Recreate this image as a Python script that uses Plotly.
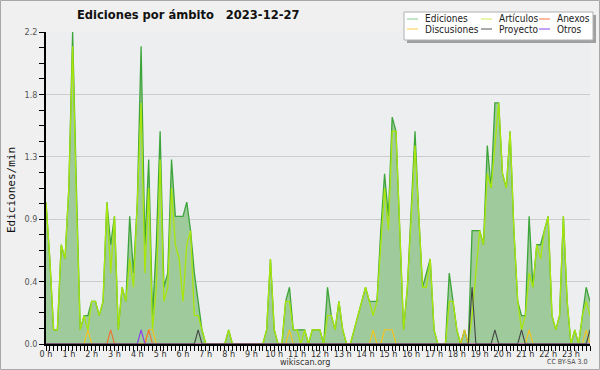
import plotly.graph_objects as go

# 10-minute slots (144 per day), values in edits/min
hour_labels = [f"{h} h" for h in range(24)]

ediciones = [
    1.0, 0.6, 0.1, 0.1, 0.7, 0.6, 1.1, 2.2, 1.1, 0.1,
    0.2, 0.2, 0.3, 0.3, 0.2, 0.3, 1.0, 0.7, 0.9, 0.1,
    0.4, 0.3, 0.9, 0.5, 1.0, 2.1, 0.7, 1.3, 0.2, 0.7,
    1.5, 0.4, 0.5, 1.3, 0.9, 0.9, 0.9, 1.0, 0.8, 0.5,
    0.3, 0.1, 0.0, 0.0, 0.0, 0.0, 0.0, 0.0, 0.1, 0.0,
    0.0, 0.0, 0.0, 0.0, 0.0, 0.0, 0.0, 0.0, 0.1, 0.6,
    0.1, 0.0, 0.0, 0.3, 0.4, 0.1, 0.1, 0.1, 0.1, 0.0,
    0.1, 0.1, 0.1, 0.0, 0.4, 0.2, 0.1, 0.3, 0.1, 0.0,
    0.0, 0.1, 0.2, 0.3, 0.4, 0.3, 0.3, 0.3, 0.8, 1.2,
    0.9, 1.6, 1.5, 0.8, 0.1, 0.4, 0.9, 1.5, 0.9, 0.4,
    0.5, 0.6, 0.1, 0.0, 0.0, 0.0, 0.5, 0.3, 0.1, 0.0,
    0.1, 0.0, 0.8, 0.8, 0.8, 0.7, 1.4, 1.1, 1.7, 1.7,
    1.2, 1.1, 1.5, 0.8, 0.3, 0.2, 0.2, 0.9, 0.4, 0.7,
    0.7, 0.8, 0.9, 0.2, 0.1, 0.2, 0.9, 0.3, 0.0, 0.1,
    0.0, 0.2, 0.4, 0.3,
]

articulos = [
    1.0, 0.6, 0.1, 0.1, 0.7, 0.6, 1.1, 2.1, 1.0, 0.1,
    0.2, 0.1, 0.3, 0.3, 0.2, 0.3, 1.0, 0.5, 0.9, 0.1,
    0.4, 0.3, 0.6, 0.4, 1.0, 1.7, 0.5, 1.1, 0.1, 0.4,
    1.3, 0.3, 0.4, 1.1, 0.7, 0.6, 0.3, 0.7, 0.8, 0.2,
    0.2, 0.1, 0.0, 0.0, 0.0, 0.0, 0.0, 0.0, 0.1, 0.0,
    0.0, 0.0, 0.0, 0.0, 0.0, 0.0, 0.0, 0.0, 0.1, 0.6,
    0.1, 0.0, 0.0, 0.3, 0.3, 0.1, 0.1, 0.0, 0.1, 0.0,
    0.1, 0.1, 0.1, 0.0, 0.2, 0.2, 0.1, 0.3, 0.1, 0.0,
    0.0, 0.1, 0.2, 0.3, 0.4, 0.3, 0.2, 0.3, 0.7, 1.1,
    0.8, 1.5, 1.5, 0.8, 0.1, 0.4, 0.9, 1.4, 0.9, 0.4,
    0.4, 0.6, 0.1, 0.0, 0.0, 0.0, 0.3, 0.3, 0.1, 0.0,
    0.0, 0.0, 0.2, 0.5, 0.8, 0.7, 1.2, 1.1, 1.4, 1.7,
    1.2, 1.1, 1.5, 0.8, 0.3, 0.1, 0.2, 0.5, 0.4, 0.7,
    0.6, 0.8, 0.9, 0.2, 0.1, 0.2, 0.9, 0.3, 0.0, 0.1,
    0.0, 0.2, 0.3, 0.2,
]

# sparse series: slot index -> value
discusiones_slots = [11, 27, 28, 64, 86, 89, 90, 91, 110, 127, 142]
discusiones_vals = [0.1] * 11
anexos_slots = [17, 27]
anexos_vals = [0.1, 0.1]
otros_slots = [25]
otros_vals = [0.1]
proyecto_slots = [40, 112, 118, 125, 143]
proyecto_vals = [0.1, 0.4, 0.1, 0.1, 0.1]

N = 144
slots = list(range(N))


def dense(idx, vals):
    arr = [0.0] * N
    for i, v in zip(idx, vals):
        arr[i] = v
    return arr


fig = go.Figure()
fig.add_trace(go.Scatter(x=slots, y=ediciones, mode="lines", fill="tozeroy",
                         fillcolor="#9fca9c", line=dict(color="#3ea53a", width=1.3),
                         name="Ediciones"))
fig.add_trace(go.Scatter(x=slots, y=articulos, mode="lines",
                         line=dict(color="#a8e60c", width=1.3), name="Artículos"))
for name, idx, vals, col in [
    ("Discusiones", discusiones_slots, discusiones_vals, "#f5c518"),
    ("Anexos", anexos_slots, anexos_vals, "#f07030"),
    ("Otros", otros_slots, otros_vals, "#8a3cf0"),
    ("Proyecto", proyecto_slots, proyecto_vals, "#444444"),
]:
    fig.add_trace(go.Scatter(x=slots, y=dense(idx, vals), mode="lines",
                             line=dict(color=col, width=1.1), name=name))

L, R, T, B = 46, 10, 32, 26
W, H = 600, 370
PW, PH = W - L - R, H - T - B
COND = "DejaVu Sans Condensed, DejaVu Sans"


def px(x):
    return (x - L) / PW


def py(y):
    return (H - B - y) / PH


fig.update_layout(
    width=W, height=H, showlegend=False,
    margin=dict(l=L, r=R, t=T, b=B, pad=0, autoexpand=False),
    paper_bgcolor="#f0f0f0", plot_bgcolor="#eceef0",
    font=dict(family=COND, size=9, color="#333333"),
)

fig.update_xaxes(
    automargin=False,
    range=[0, N - 1], tickmode="array",
    tickvals=[h * 6 for h in range(24)], ticktext=hour_labels,
    ticks="outside", ticklen=5, tickcolor="#000", tickwidth=1,
    minor=dict(dtick=1, ticks="outside", ticklen=5, tickcolor="#000", tickwidth=1),
    showline=True, linecolor="#000", linewidth=1.5,
    showgrid=False, zeroline=False, ticklabelstandoff=-5,
    tickfont=dict(family=COND, size=9, color="#333"),
)
fig.update_yaxes(
    automargin=False,
    range=[0, 2.2], tickmode="array",
    tickvals=[0, 0.44, 0.88, 1.32, 1.76, 2.2],
    ticktext=["0.0", "0.4", "0.9", "1.3", "1.8", "2.2"],
    ticks="outside", ticklen=5, tickcolor="#000", tickwidth=1,
    minor=dict(dtick=0.11, ticks="outside", ticklen=5, tickcolor="#000", tickwidth=1,
               showgrid=False),
    showline=True, linecolor="#000", linewidth=1.5,
    showgrid=True, gridcolor="#cccccc", gridwidth=1, zeroline=False,
    tickfont=dict(family=COND, size=9, color="#555"),
)

annotations = [
    dict(text="<b>Ediciones por ámbito&nbsp;&nbsp; 2023-12-27</b>", x=px(188), y=py(15),
         font=dict(family=COND, size=12.8, color="#111")),
    dict(text="Ediciones/min", x=px(11), y=py(190), textangle=-90,
         font=dict(family="DejaVu Sans Mono", size=11, color="#111")),
    dict(text="wikiscan.org", x=px(305), y=py(362), font=dict(family=COND, size=9, color="#333")),
    dict(text="CC BY-SA 3.0", x=px(589), y=py(362), xanchor="right",
         font=dict(family=COND, size=7, color="#444")),
]

shapes = [
    dict(type="rect", xref="paper", yref="paper", x0=px(0.5), x1=px(599.5),
         y0=py(0.5), y1=py(369.5), line=dict(color="#a8a8a8", width=1)),
    # legend shadow and box
    dict(type="rect", xref="paper", yref="paper", x0=px(407), x1=px(596),
         y0=py(15), y1=py(43), fillcolor="#a0a0a0", line=dict(width=0)),
    dict(type="rect", xref="paper", yref="paper", x0=px(404), x1=px(593),
         y0=py(12), y1=py(40), fillcolor="#ffffff", line=dict(color="#b0b0b0", width=1)),
]

legend_items = [
    ("Ediciones", "#88cc88", 407, 19),
    ("Artículos", "#ccee55", 481, 19),
    ("Anexos", "#ff7744", 539, 19),
    ("Discusiones", "#ffcc44", 407, 29),
    ("Proyecto", "#555555", 481, 29),
    ("Otros", "#8844ee", 539, 29),
]
for label, col, x0, yc in legend_items:
    shapes.append(dict(type="line", xref="paper", yref="paper", x0=px(x0), x1=px(x0 + 11),
                       y0=py(yc), y1=py(yc), line=dict(color=col, width=1)))
    annotations.append(dict(text=label, x=px(x0 + 16), y=py(yc), xanchor="left",
                            font=dict(family=COND, size=10, color="#222")))

for a in annotations:
    a.update(xref="paper", yref="paper", showarrow=False)
    a.setdefault("xanchor", "center")
    a.setdefault("yanchor", "middle")

fig.update_layout(annotations=annotations, shapes=shapes)
fig.write_html("out.html", config={"displayModeBar": False},
               post_script="document.body.style.margin='0';document.body.style.overflow='hidden';")
